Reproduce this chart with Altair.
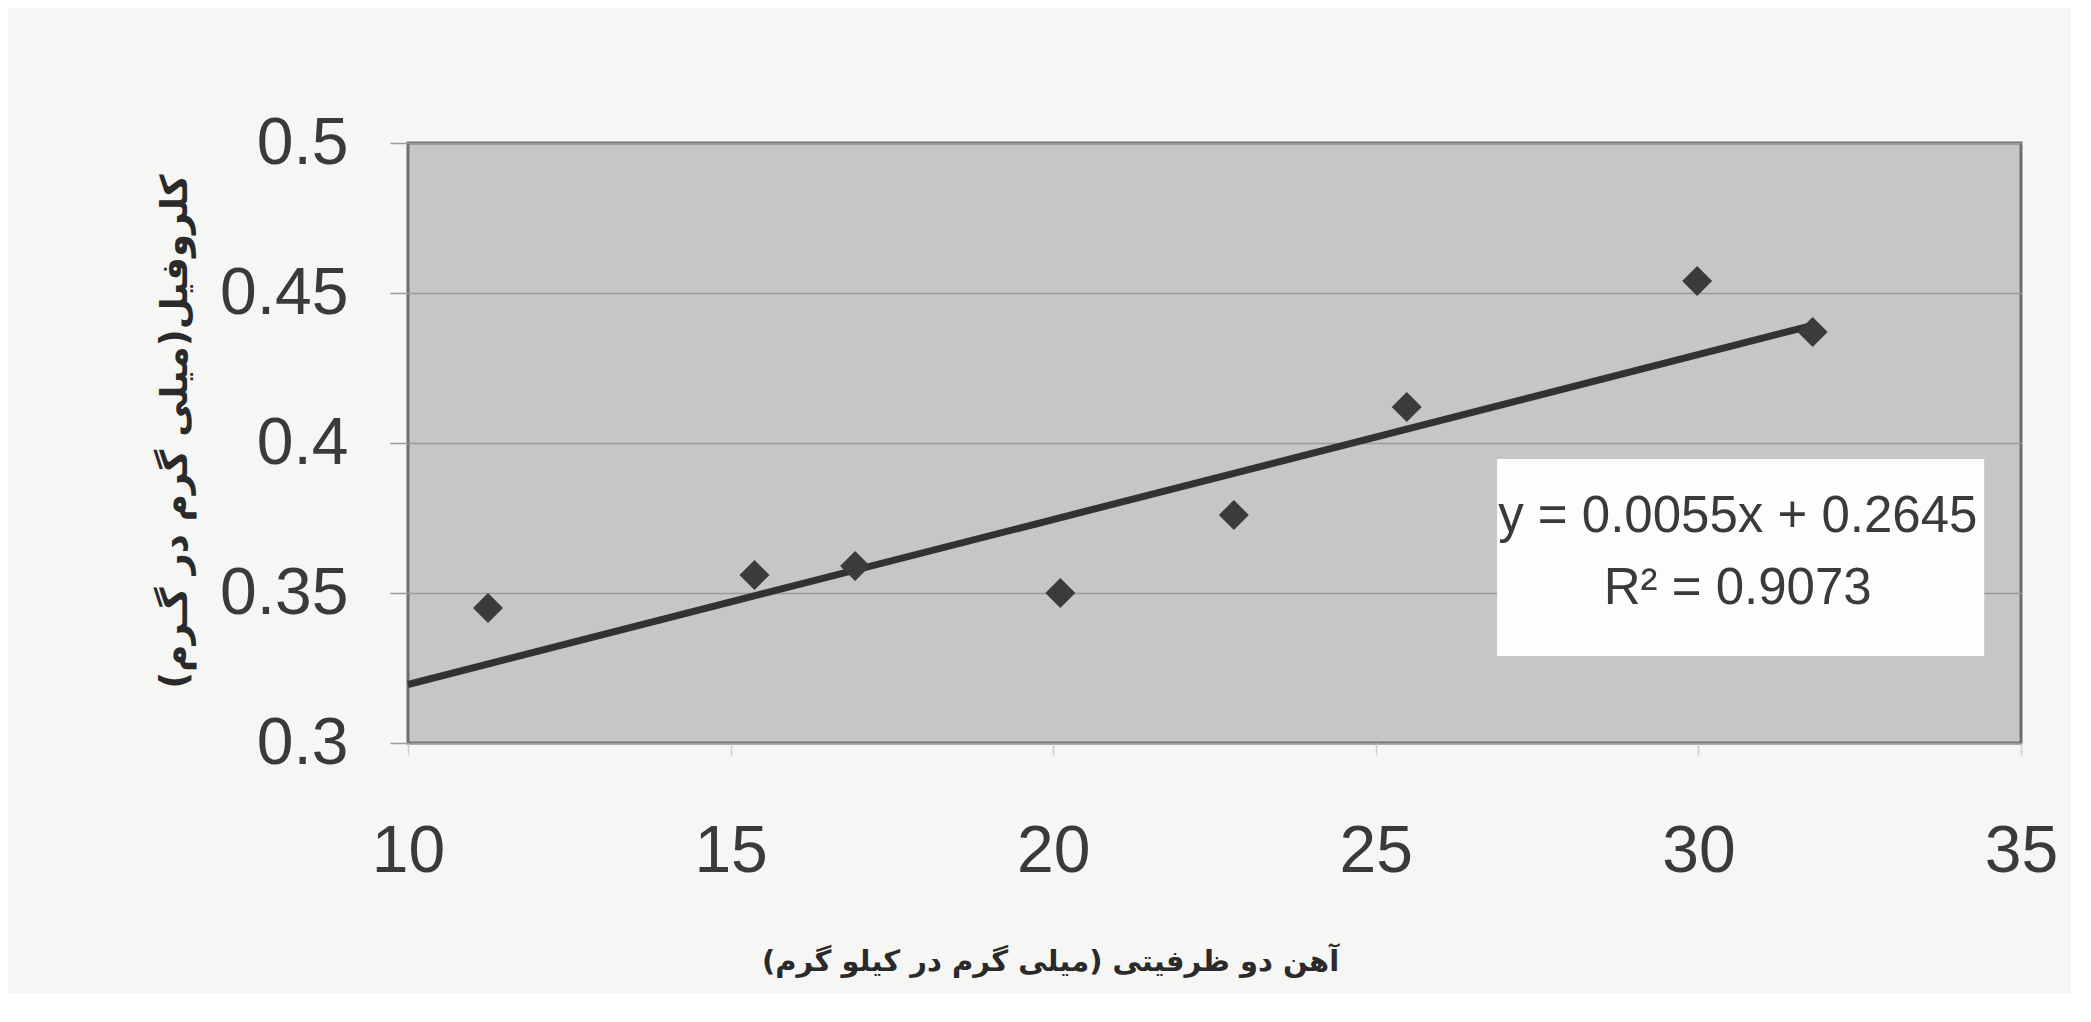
import altair as alt
import pandas as pd

# Data
iron = [11.24, 15.37, 16.93, 20.11, 22.80, 25.48, 29.98, 31.77]
chlorophyll = [0.345, 0.356, 0.359, 0.350, 0.376, 0.412, 0.454, 0.437]

slope = 0.0055
intercept = 0.2645
eq_lines = ["y = 0.0055x + 0.2645", "R² = 0.9073"]
eq_y = [0.3755, 0.3515]
box_x = [26.88, 34.43]
box_y = [0.3947, 0.329]
eq_x = 30.61

x_ticks = [10, 15, 20, 25, 30, 35]
y_ticks = [0.3, 0.35, 0.4, 0.45, 0.5]

x_title = "آهن دو ظرفیتی (میلی گرم در کیلو گرم)"
y_title = "کلروفیل(میلی گرم در گـرم)"

NUM_FONT = "Liberation Sans, Arial, sans-serif"
FA_FONT = "DejaVu Sans, Noto Sans, sans-serif"

pts = pd.DataFrame({"x": iron, "y": chlorophyll})
trend = pd.DataFrame({"x": [x_ticks[0], max(iron)]})
box = pd.DataFrame({"x": [box_x[0]], "x2": [box_x[1]], "y": [box_y[0]], "y2": [box_y[1]]})
eq = pd.DataFrame({"x": [eq_x, eq_x], "y": eq_y, "t": eq_lines})

xscale = alt.Scale(domain=[10, 35], nice=False, zero=False)
yscale = alt.Scale(domain=[0.3, 0.5], nice=False, zero=False)

xaxis = alt.Axis(
    values=x_ticks, title=x_title, format="d", grid=False, domain=False,
    labelFont=NUM_FONT, labelFontSize=66, labelColor="#3a3a3a",
    labelPadding=64, tickSize=12, tickColor="#cfcfcf", tickWidth=1.5,
    labelFlush=False,
    titleFont=FA_FONT, titleFontSize=29, titleFontWeight="bold", titleColor="#2a2a2a",
    titleX=642, titleY=218, titleAlign="center", titleBaseline="middle",
)
yaxis = alt.Axis(
    values=y_ticks, title=y_title, format=".2~f", grid=True,
    gridColor="#9a9a9a", gridWidth=1.5, domain=False,
    labelFont=NUM_FONT, labelFontSize=66, labelColor="#3a3a3a",
    labelPadding=42, tickSize=18, tickColor="#9a9a9a", tickWidth=1.5,
    labelFlush=False,
    titleFont=FA_FONT, titleFontSize=37, titleFontWeight="bold", titleColor="#2a2a2a",
    titleX=-233, titleY=288, titleAngle=270, titleAlign="center", titleBaseline="middle",
)

points = alt.Chart(pts).mark_point(
    shape="diamond", filled=True, size=900, color="#3b3b3b", opacity=1
).encode(
    x=alt.X("x:Q", scale=xscale, axis=xaxis),
    y=alt.Y("y:Q", scale=yscale, axis=yaxis),
)

line = alt.Chart(trend).transform_calculate(
    y=f"{slope} * datum.x + {intercept}"
).mark_line(color="#323232", strokeWidth=7, strokeCap="butt").encode(
    x=alt.X("x:Q", scale=xscale),
    y=alt.Y("y:Q", scale=yscale),
)

rect = alt.Chart(box).mark_rect(color="#fdfdfd", opacity=1).encode(
    x=alt.X("x:Q", scale=xscale), x2="x2:Q",
    y=alt.Y("y:Q", scale=yscale), y2="y2:Q",
)

text = alt.Chart(eq).mark_text(
    font=NUM_FONT, fontSize=51, color="#3a3a3a", align="center", baseline="middle"
).encode(
    x=alt.X("x:Q", scale=xscale),
    y=alt.Y("y:Q", scale=yscale),
    text="t:N",
)

chart = alt.layer(line, points, rect, text).properties(
    width=1613, height=600,
    autosize=alt.AutoSizeParams(type="none"),
    padding={"left": 400, "top": 135, "right": 50, "bottom": 250},
    background="#f6f6f4",
).configure_view(
    fill="#c6c6c6", stroke="#6e6e6e", strokeWidth=3
)

chart.save("out.html", embed_options={"renderer": "svg", "actions": False})
